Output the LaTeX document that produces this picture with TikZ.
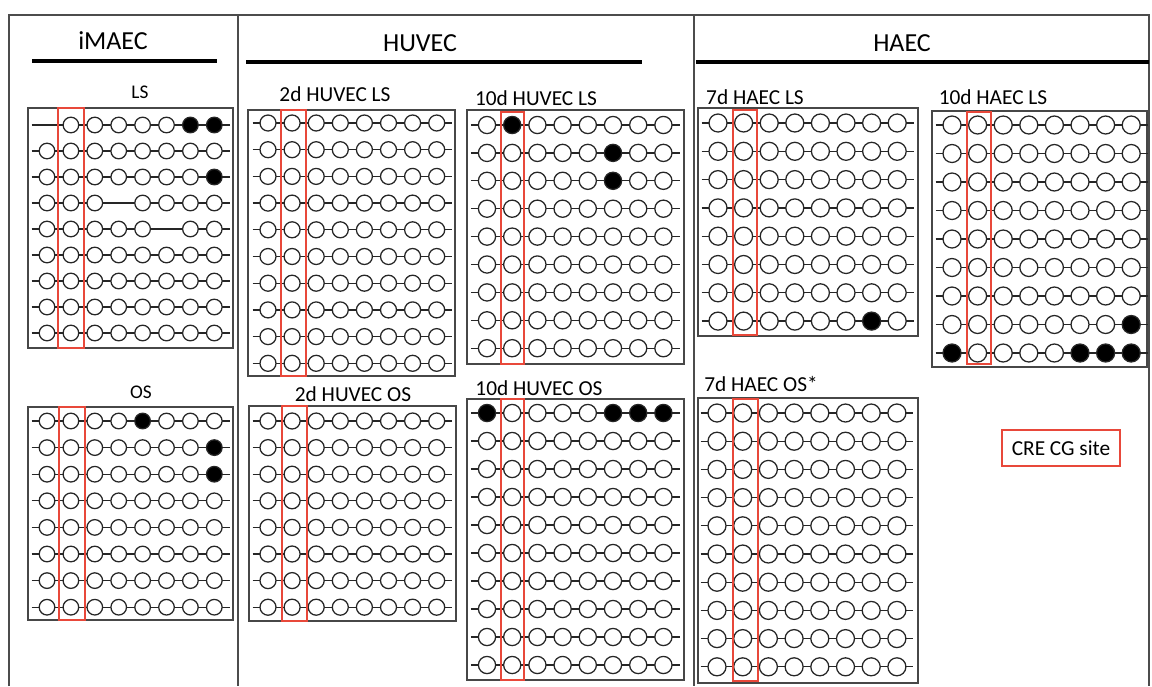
\documentclass[tikz,border=0pt]{standalone}
\usepackage{fontspec}
\setmainfont{Carlito}
\definecolor{crered}{RGB}{232,72,58}
\tikzset{
  site/.style={circle, draw=black!85, line width=0.95pt, inner sep=0pt, outer sep=0pt},
  rowline/.style={draw=black!85, line width=0.95pt},
  panelbox/.style={draw=black!72, line width=0.9pt},
  crebox/.style={draw=crered, line width=0.9pt},
  frameline/.style={draw=black!70, line width=1.1pt},
  underline/.style={draw=black, line width=2.4pt},
  header/.style={font=\fontsize{19.5}{22}\selectfont, inner sep=0pt},
  subtitle/.style={font=\fontsize{16}{19}\selectfont, inner sep=0pt},
  small/.style={font=\fontsize{14.5}{17}\selectfont, inner sep=0pt},
}
% mark cells: #1 panel, #2 kind (F filled / M missing), #3 list row/col
\newcommand\markcells[3]{%
  \foreach \ma/\mb in {#3}{\expandafter\gdef\csname #1@#2@\ma @\mb\endcsname{}}}
% grid: #1 name, #2 x of first column, #3 column step, #4 y of first row, #5 row step, #6 rows, #7 radius
\newcommand\sitegrid[7]{%
  \foreach \ri in {1,...,#6}{%
    \pgfmathsetmacro\yy{#4+(\ri-1)*#5}%
    \coordinate (#1-L\ri) at ({#2-#7-7.5},\yy);
    \coordinate (#1-R\ri) at ({#2+7*#3+#7+7.5},\yy);
    \draw[rowline] (#1-L\ri) -- (#1-R\ri);
    \foreach \ci in {1,...,8}{%
      \ifcsname #1@M@\ri @\ci\endcsname\else
        \ifcsname #1@F@\ri @\ci\endcsname\def\fc{black}\else\def\fc{white}\fi
        \node[site, fill=\fc, minimum size={1.5pt*#7}] (#1-\ri-\ci) at ({#2+(\ci-1)*#3},\yy) {};
      \fi
    }
  }}
\begin{document}
\begin{tikzpicture}[x=0.75pt,y=-0.75pt]
\useasboundingbox (0,0) rectangle (1152,686);
\fill[white] (0,0) rectangle (1152,686);

% frame
\coordinate (fTL) at (9,15);
\coordinate (fTR) at (1149,15);
\coordinate (fBL) at (9,686);
\coordinate (fBR) at (1149,686);
\coordinate (d1T) at (238,15);
\coordinate (d1B) at (238,686);
\coordinate (d2T) at (694,15);
\coordinate (d2B) at (694,686);
\draw[frameline] (fBL) -- (fTL) -- (fTR) -- (fBR);
\draw[frameline] (d1T) -- (d1B);
\draw[frameline] (d2T) -- (d2B);

% headers
\node[header] (hI) at (113,41) {iMAEC};
\node[header] (hH) at (420,43) {HUVEC};
\node[header] (hA) at (902,43) {HAEC};
\coordinate (uIa) at (32,61); \coordinate (uIb) at (217,61);
\coordinate (uHa) at (246,62); \coordinate (uHb) at (642,62);
\coordinate (uAa) at (696,62); \coordinate (uAb) at (1149,62);
\draw[underline] (uIa) -- (uIb);
\draw[underline] (uHa) -- (uHb);
\draw[underline] (uAa) -- (uAb);

% labels
\node[small] (tLS) at (140,92) {LS};
\node[small] (tOS) at (141,392) {OS};
\node[subtitle] (t2L) at (335,94) {2d HUVEC LS};
\node[subtitle] (t10L) at (536,98) {10d HUVEC LS};
\node[subtitle] (t2O) at (353,394) {2d HUVEC OS};
\node[subtitle] (t10O) at (539,388) {10d HUVEC OS};
\node[subtitle] (t7AL) at (755,97) {7d HAEC LS};
\node[subtitle] (t10AL) at (993,97) {10d HAEC LS};
\node[subtitle] (t7AO) at (761,384) {7d HAEC OS*};

% marks
\markcells{P1}{F}{1/7,1/8,3/8}
\markcells{P1}{M}{1/1,4/4,5/6}
\markcells{P2}{F}{1/5,2/8,3/8}
\markcells{P4}{F}{1/2,2/6,3/6}
\markcells{P6}{F}{1/1,1/6,1/7,1/8}
\markcells{P7}{F}{8/7}
\markcells{P8}{F}{8/8,9/1,9/6,9/7,9/8}

% panel boxes
\draw[panelbox] (28,108) rectangle (233,348);
\draw[panelbox] (28,407) rectangle (233,620);
\draw[panelbox] (248,110) rectangle (455,376);
\draw[panelbox] (467,110) rectangle (684,364);
\draw[panelbox] (249,406) rectangle (456,621);
\draw[panelbox] (467,399) rectangle (684,680);
\draw[panelbox] (698,108) rectangle (918,336);
\draw[panelbox] (932,111) rectangle (1147,367);
\draw[panelbox] (698,398) rectangle (918,683);

% grids
\sitegrid{P1}{47}{23.9}{125}{26}{9}{7.8}
\sitegrid{P2}{47}{23.9}{421}{26.6}{8}{7.8}
\sitegrid{P3}{268}{24.1}{123}{26.7}{10}{8}
\sitegrid{P4}{487}{25.2}{125}{27.9}{9}{8.6}
\sitegrid{P5}{268}{24.1}{421}{26.6}{8}{8}
\sitegrid{P6}{487}{25.2}{413}{28}{10}{8.6}
\sitegrid{P7}{718}{25.6}{123}{28.3}{8}{9}
\sitegrid{P8}{952}{25.6}{125}{28.5}{9}{9}
\sitegrid{P9}{717}{25.7}{413}{28.2}{10}{9}

% CRE CG site columns
\draw[crebox] (58,108) rectangle (84,348);
\draw[crebox] (59,407) rectangle (85,620);
\draw[crebox] (281,110) rectangle (306,376);
\draw[crebox] (501,112) rectangle (524,364);
\draw[crebox] (282,406) rectangle (307,621);
\draw[crebox] (501,399) rectangle (524,680);
\draw[crebox] (733,110) rectangle (757,335);
\draw[crebox] (967,112) rectangle (991,364);
\draw[crebox] (733,399) rectangle (758,681);

% legend
\node[crebox, draw, minimum width=88.5pt, minimum height=27pt, inner sep=0pt,
      font=\fontsize{16}{19}\selectfont] (leg) at (1061,448) {CRE CG site};
\end{tikzpicture}
\end{document}
